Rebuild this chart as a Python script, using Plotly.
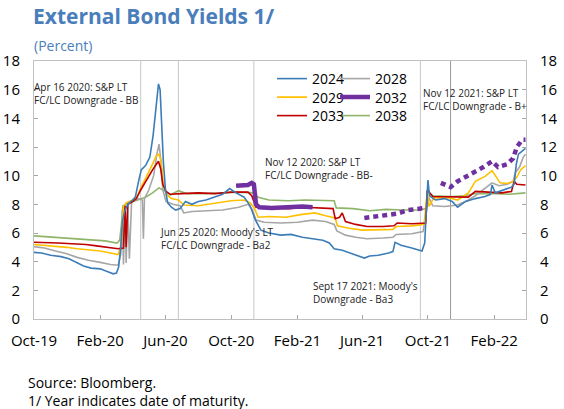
import plotly.graph_objects as go

# ---------------- data ----------------
dates_2024 = ["2019-10-01","2019-10-15","2019-11-01","2019-11-20","2019-12-05","2019-12-20","2020-01-01","2020-01-15","2020-02-01","2020-02-15","2020-02-25","2020-03-02","2020-03-06","2020-03-10","2020-03-13","2020-03-17","2020-03-23","2020-04-01","2020-04-06","2020-04-12","2020-04-17","2020-04-25","2020-05-03","2020-05-09","2020-05-14","2020-05-19","2020-05-22","2020-05-25","2020-05-28","2020-06-01","2020-06-05","2020-06-12","2020-06-20","2020-06-28","2020-07-08","2020-07-20","2020-08-01","2020-08-15","2020-09-01","2020-09-15","2020-09-28","2020-10-10","2020-10-25","2020-11-05","2020-11-15","2020-11-25","2020-12-10","2021-01-01","2021-01-20","2021-02-10","2021-03-01","2021-03-20","2021-04-01","2021-04-10","2021-04-25","2021-05-10","2021-05-25","2021-06-05","2021-06-15","2021-07-01","2021-07-20","2021-07-28","2021-08-01","2021-08-12","2021-09-01","2021-09-20","2021-09-25","2021-09-28","2021-10-01","2021-10-04","2021-10-15","2021-11-01","2021-11-15","2021-11-25","2021-12-10","2021-12-28","2022-01-15","2022-01-25","2022-01-28","2022-02-03","2022-02-20","2022-03-05","2022-03-10","2022-03-14","2022-03-18","2022-03-25","2022-03-31"]
yield_2024 = [4.65,4.6,4.45,4.35,4.2,3.9,3.7,3.55,3.5,3.3,3.15,3.2,3.6,5.0,6.8,7.5,8.0,8.3,8.5,9.6,10.4,10.7,11.3,12.8,14.8,16.4,16.0,13.5,11.0,9.0,8.1,7.8,7.6,7.7,8.2,8.0,8.2,8.3,8.5,8.7,9.1,8.8,8.5,7.9,6.9,6.2,6.0,5.85,5.9,5.7,5.6,5.5,5.3,4.9,4.8,4.6,4.45,4.25,4.4,4.45,4.6,4.7,5.35,5.15,4.95,4.75,5.3,7.5,9.7,8.6,8.3,8.4,8.2,7.8,8.2,8.4,8.55,8.7,9.35,8.8,9.0,9.2,9.4,10.8,11.5,11.7,11.9]

dates_2028 = ["2019-10-01","2019-10-20","2019-11-10","2019-12-01","2019-12-20","2020-01-10","2020-02-01","2020-02-20","2020-03-05","2020-03-10","2020-03-13","2020-03-15","2020-03-18","2020-03-20","2020-03-23","2020-03-26","2020-03-30","2020-04-01","2020-04-12","2020-04-19","2020-04-21","2020-04-23","2020-05-01","2020-05-10","2020-05-16","2020-05-20","2020-05-23","2020-05-27","2020-06-02","2020-06-15","2020-06-28","2020-07-05","2020-07-20","2020-08-15","2020-09-15","2020-10-15","2020-11-01","2020-11-08","2020-11-16","2020-12-01","2021-01-01","2021-02-01","2021-03-01","2021-03-25","2021-04-10","2021-04-15","2021-05-01","2021-05-20","2021-06-10","2021-07-10","2021-07-28","2021-08-03","2021-09-01","2021-09-22","2021-09-28","2021-10-02","2021-10-10","2021-11-01","2021-11-25","2021-12-15","2021-12-28","2022-01-15","2022-01-28","2022-02-10","2022-02-25","2022-03-08","2022-03-12","2022-03-20","2022-03-27","2022-03-31"]
yield_2028 = [5.05,4.95,4.75,4.55,4.3,4.1,3.95,3.8,3.75,4.5,7.6,3.8,7.9,3.9,8.0,4.2,8.1,8.2,8.4,8.3,5.6,8.4,9.0,10.0,11.5,12.2,11.2,9.0,8.2,8.0,7.9,7.4,7.5,7.55,7.6,7.8,8.0,7.7,6.9,6.75,6.7,6.75,6.9,6.8,6.6,6.15,5.85,5.7,5.6,5.65,5.7,5.9,5.95,6.1,7.5,8.5,7.9,7.85,7.95,8.3,8.6,9.1,9.5,9.3,9.4,9.6,10.2,10.6,11.3,11.5]

dates_2029 = ["2019-10-01","2019-10-20","2019-11-10","2019-12-01","2019-12-20","2020-01-10","2020-02-01","2020-02-20","2020-03-05","2020-03-09","2020-03-12","2020-03-15","2020-03-20","2020-04-01","2020-04-10","2020-04-17","2020-04-28","2020-05-08","2020-05-15","2020-05-20","2020-05-24","2020-05-28","2020-06-03","2020-06-12","2020-06-25","2020-07-05","2020-08-01","2020-08-20","2020-09-10","2020-10-01","2020-10-25","2020-11-05","2020-11-12","2020-11-20","2020-12-10","2021-01-10","2021-02-10","2021-03-05","2021-03-25","2021-04-12","2021-04-16","2021-05-05","2021-06-01","2021-07-01","2021-07-28","2021-08-03","2021-09-01","2021-09-24","2021-09-28","2021-09-30","2021-10-03","2021-10-12","2021-11-10","2021-11-25","2021-12-15","2021-12-28","2022-01-15","2022-01-28","2022-02-05","2022-02-12","2022-02-25","2022-03-08","2022-03-15","2022-03-22","2022-03-31"]
yield_2029 = [5.2,5.15,5.05,5.0,4.9,4.85,4.75,4.6,4.5,4.9,6.0,7.8,8.1,8.3,8.6,9.2,10.0,10.8,11.4,11.5,11.0,9.4,8.7,8.4,8.3,7.95,7.9,8.0,8.1,8.25,8.3,8.1,7.8,7.1,7.15,7.1,7.3,7.4,7.2,7.05,6.5,6.35,6.2,6.2,6.25,6.45,6.5,6.6,8.0,8.9,7.85,8.45,8.45,8.3,8.8,9.6,9.95,10.35,9.9,9.5,9.45,9.6,9.9,10.4,10.7]

dates_2032a = ["2020-10-10","2020-10-20","2020-11-01","2020-11-08","2020-11-12","2020-11-16","2020-11-22","2020-12-15","2021-01-15","2021-02-10","2021-03-01"]
yield_2032a = [9.3,9.35,9.35,9.5,9.4,8.0,7.8,7.75,7.8,7.85,7.8]
dates_2032b = ["2021-06-05","2021-06-25","2021-07-15","2021-08-05","2021-08-25","2021-09-15","2021-09-27","2021-10-10","2021-10-25","2021-11-12","2021-11-25","2021-12-05","2021-12-25","2022-01-12","2022-01-28","2022-02-08","2022-02-25","2022-03-08","2022-03-15","2022-03-25","2022-03-31"]
yield_2032b = [7.05,7.15,7.2,7.35,7.6,7.7,7.75,None,9.5,9.2,9.6,9.8,10.2,10.6,11.0,10.6,10.8,11.2,12.0,12.5,12.5]

dates_2033 = ["2019-10-01","2019-10-20","2019-11-15","2019-12-10","2020-01-05","2020-01-25","2020-02-15","2020-03-05","2020-03-15","2020-03-18","2020-03-20","2020-03-23","2020-04-01","2020-04-08","2020-04-16","2020-04-28","2020-05-08","2020-05-15","2020-05-19","2020-05-23","2020-05-27","2020-06-02","2020-06-10","2020-07-01","2020-08-01","2020-09-01","2020-10-01","2020-11-01","2020-11-08","2020-11-16","2020-12-10","2021-01-15","2021-02-15","2021-03-15","2021-04-08","2021-04-12","2021-04-20","2021-04-25","2021-05-01","2021-05-20","2021-06-10","2021-07-10","2021-07-30","2021-08-05","2021-09-01","2021-09-27","2021-09-30","2021-10-10","2021-11-15","2021-12-15","2021-12-28","2022-01-20","2022-02-15","2022-03-05","2022-03-10","2022-03-15","2022-03-31"]
yield_2033 = [5.35,5.35,5.3,5.25,5.2,5.1,5.0,4.9,4.95,7.9,5.0,8.0,8.2,8.4,9.0,9.8,10.4,10.8,11.0,10.5,9.4,8.9,8.7,8.75,8.8,8.75,8.85,8.85,8.6,7.8,7.75,7.7,7.8,7.75,7.7,7.0,7.1,7.4,6.8,6.6,6.45,6.45,6.5,6.7,6.65,6.7,9.0,8.55,8.5,8.5,8.9,8.85,8.8,8.9,9.6,9.4,9.35]

dates_2038 = ["2019-10-01","2019-10-20","2019-11-15","2019-12-15","2020-01-15","2020-02-10","2020-03-03","2020-03-08","2020-03-11","2020-03-14","2020-03-25","2020-04-10","2020-04-25","2020-05-08","2020-05-20","2020-06-01","2020-06-10","2020-06-25","2020-07-10","2020-08-15","2020-09-15","2020-10-15","2020-11-10","2020-11-20","2020-12-10","2021-01-15","2021-02-15","2021-03-15","2021-04-10","2021-04-14","2021-05-15","2021-06-15","2021-07-15","2021-08-15","2021-09-15","2021-09-27","2021-09-30","2021-10-10","2021-11-15","2021-12-10","2021-12-28","2022-02-01","2022-03-01","2022-03-31"]
yield_2038 = [5.8,5.75,5.7,5.65,5.55,5.45,5.3,5.5,6.5,7.9,8.1,8.3,8.5,8.8,9.15,8.9,8.65,8.95,8.75,8.75,8.8,8.85,8.8,8.5,8.3,8.25,8.3,8.25,8.25,7.75,7.7,7.55,7.65,7.6,7.6,7.7,8.9,8.6,8.55,8.6,8.75,8.75,8.7,8.8]

event_dates = ["2020-04-16", "2020-06-25", "2020-11-12", "2021-09-17", "2021-11-12"]
event_labels = [
    "Apr 16 2020: S&P LT<br>FC/LC Downgrade - BB",
    "Jun 25 2020: Moody's LT<br>FC/LC Downgrade - Ba2",
    "Nov 12 2020: S&P LT<br>FC/LC Downgrade - BB-",
    "Sept 17 2021: Moody's<br>Downgrade - Ba3",
    "Nov 12 2021: S&P LT<br>FC/LC Downgrade - B+",
]
y_ticks = [0, 2, 4, 6, 8, 10, 12, 14, 16, 18]

# ---------------- styling ----------------
FONT = "Open Sans"
BLUE_T = "#4A7EBB"
L, R, T, B = 34, 38, 61, 90
W, H = 564, 409
PW, PH = W - L - R, H - T - B

def px(xp):
    return (xp - L) / PW

def py(yp):
    return (H - B - yp) / PH

fig = go.Figure()

def add(dates, vals, name, color, legend, width=1.6, dash="solid", show=True, group=None, yaxis="y"):
    fig.add_trace(go.Scatter(
        x=dates, y=vals, name=name, mode="lines", yaxis=yaxis,
        line=dict(color=color, width=width, dash=dash),
        legend=legend, showlegend=show, legendgroup=group or name,
        connectgaps=False, hoverinfo="skip"))

add(dates_2038, yield_2038, "2038", "#8FB569", "legend6")
add(dates_2028, yield_2028, "2028", "#A6A6A6", "legend2")
add(dates_2029, yield_2029, "2029", "#FFC000", "legend3")
add(dates_2033, yield_2033, "2033", "#C00000", "legend5")
add(dates_2024, yield_2024, "2024", "#3C7DB8", "legend", yaxis="y2")
add(dates_2032a, yield_2032a, "2032", "#7030A0", "legend4", width=4.5, yaxis="y2")
add(dates_2032b, yield_2032b, "2032", "#7030A0", "legend4", width=4.5, dash="5px,4px",
    show=False, group="2032", yaxis="y2")

# event lines
ev_colors = ["#C8C8C8", "#C8C8C8", "#C8C8C8", "#C8C8C8", "#9A9A9A"]
for d, c in zip(event_dates, ev_colors):
    fig.add_shape(type="line", xref="x", yref="paper", x0=d, x1=d, y0=0, y1=1,
                  line=dict(color=c, width=1), layer="below")

# event annotations (text positions in pixels)
ann_pos = [  # (x px, anchor, y center px)
    (141, "right", 93.5),
    (158, "left", 238.5),
    (263, "left", 168),
    (311, "left", 292.5),
    (421, "left", 99.5),
]
for lab, (xp, anc, yc) in zip(event_labels, ann_pos):
    fig.add_annotation(text=lab, xref="paper", yref="paper", x=px(xp), y=py(yc),
                       xanchor=anc, yanchor="middle", align="left", showarrow=False,
                       font=dict(family=FONT, size=10, color="#222222"))

# subtitle and notes
fig.add_annotation(text="(Percent)", xref="paper", yref="paper", x=px(32), y=py(46),
                   xanchor="left", yanchor="middle", showarrow=False,
                   font=dict(family=FONT, size=14, color=BLUE_T))
fig.add_annotation(text="Source: Bloomberg.", xref="paper", yref="paper", x=px(26), y=py(382),
                   xanchor="left", yanchor="middle", showarrow=False,
                   font=dict(family=FONT, size=14, color="#000000"))
fig.add_annotation(text="1/ Year indicates date of maturity.", xref="paper", yref="paper", x=px(26), y=py(400),
                   xanchor="left", yanchor="middle", showarrow=False,
                   font=dict(family=FONT, size=14, color="#000000"))

axis_line = "#BFBFBF"
tick_col = "#A6A6A6"

legend_common = dict(orientation="v", bgcolor="rgba(0,0,0,0)", borderwidth=0,
                     font=dict(family=FONT, size=14, color="#000000"),
                     xanchor="left", yanchor="middle", itemwidth=30, tracegroupgap=0)
col_x = [272, 335]
row_y = [79, 97.5, 116]
leg_slots = {"legend": (0, 0), "legend2": (1, 0), "legend3": (0, 1),
             "legend4": (1, 1), "legend5": (0, 2), "legend6": (1, 2)}
legends = {}
for k, (c, r) in leg_slots.items():
    legends[k] = dict(legend_common, x=px(col_x[c]), y=py(row_y[r]))

tickfont = dict(family=FONT, size=15, color="#000000")
fig.update_layout(
    width=W, height=H,
    margin=dict(l=L, r=R, t=T, b=B, autoexpand=False),
    paper_bgcolor="white", plot_bgcolor="white",
    font=dict(family=FONT, size=14, color="#000000"),
    title=dict(text="<b>External Bond Yields 1/</b>", x=33 / W, xanchor="left",
               y=1 - 17 / H, yanchor="middle", xref="container", yref="container",
               pad=dict(l=0, r=0, t=0, b=0),
               font=dict(family=FONT, size=21, color=BLUE_T)),
    xaxis=dict(type="date", range=["2019-10-01", "2022-04-01"], tick0="2019-10-01",
               dtick="M4", tickformat="%b-%y", ticks="inside", ticklen=4,
               tickcolor=tick_col, showline=True, linecolor=axis_line, linewidth=1,
               mirror=True, showgrid=False, zeroline=False, automargin=False,
               tickfont=tickfont, ticklabelstandoff=8),
    yaxis=dict(range=[0, 18], tickvals=y_ticks, ticks="inside", ticklen=4,
               tickcolor=tick_col, showline=True, linecolor=axis_line, linewidth=1,
               showgrid=False, zeroline=False, automargin=False,
               tickfont=tickfont, ticklabelstandoff=10),
    yaxis2=dict(range=[0, 18], tickvals=y_ticks, ticks="inside", ticklen=4,
                tickcolor=tick_col, showline=True, linecolor=axis_line, linewidth=1,
                showgrid=False, zeroline=False, overlaying="y", side="right",
                anchor="x", automargin=False,
                tickfont=tickfont, ticklabelstandoff=10),
    **legends,
)

fig.write_html("out.html", config={"displayModeBar": False},
               post_script="document.body.style.margin='0';")
